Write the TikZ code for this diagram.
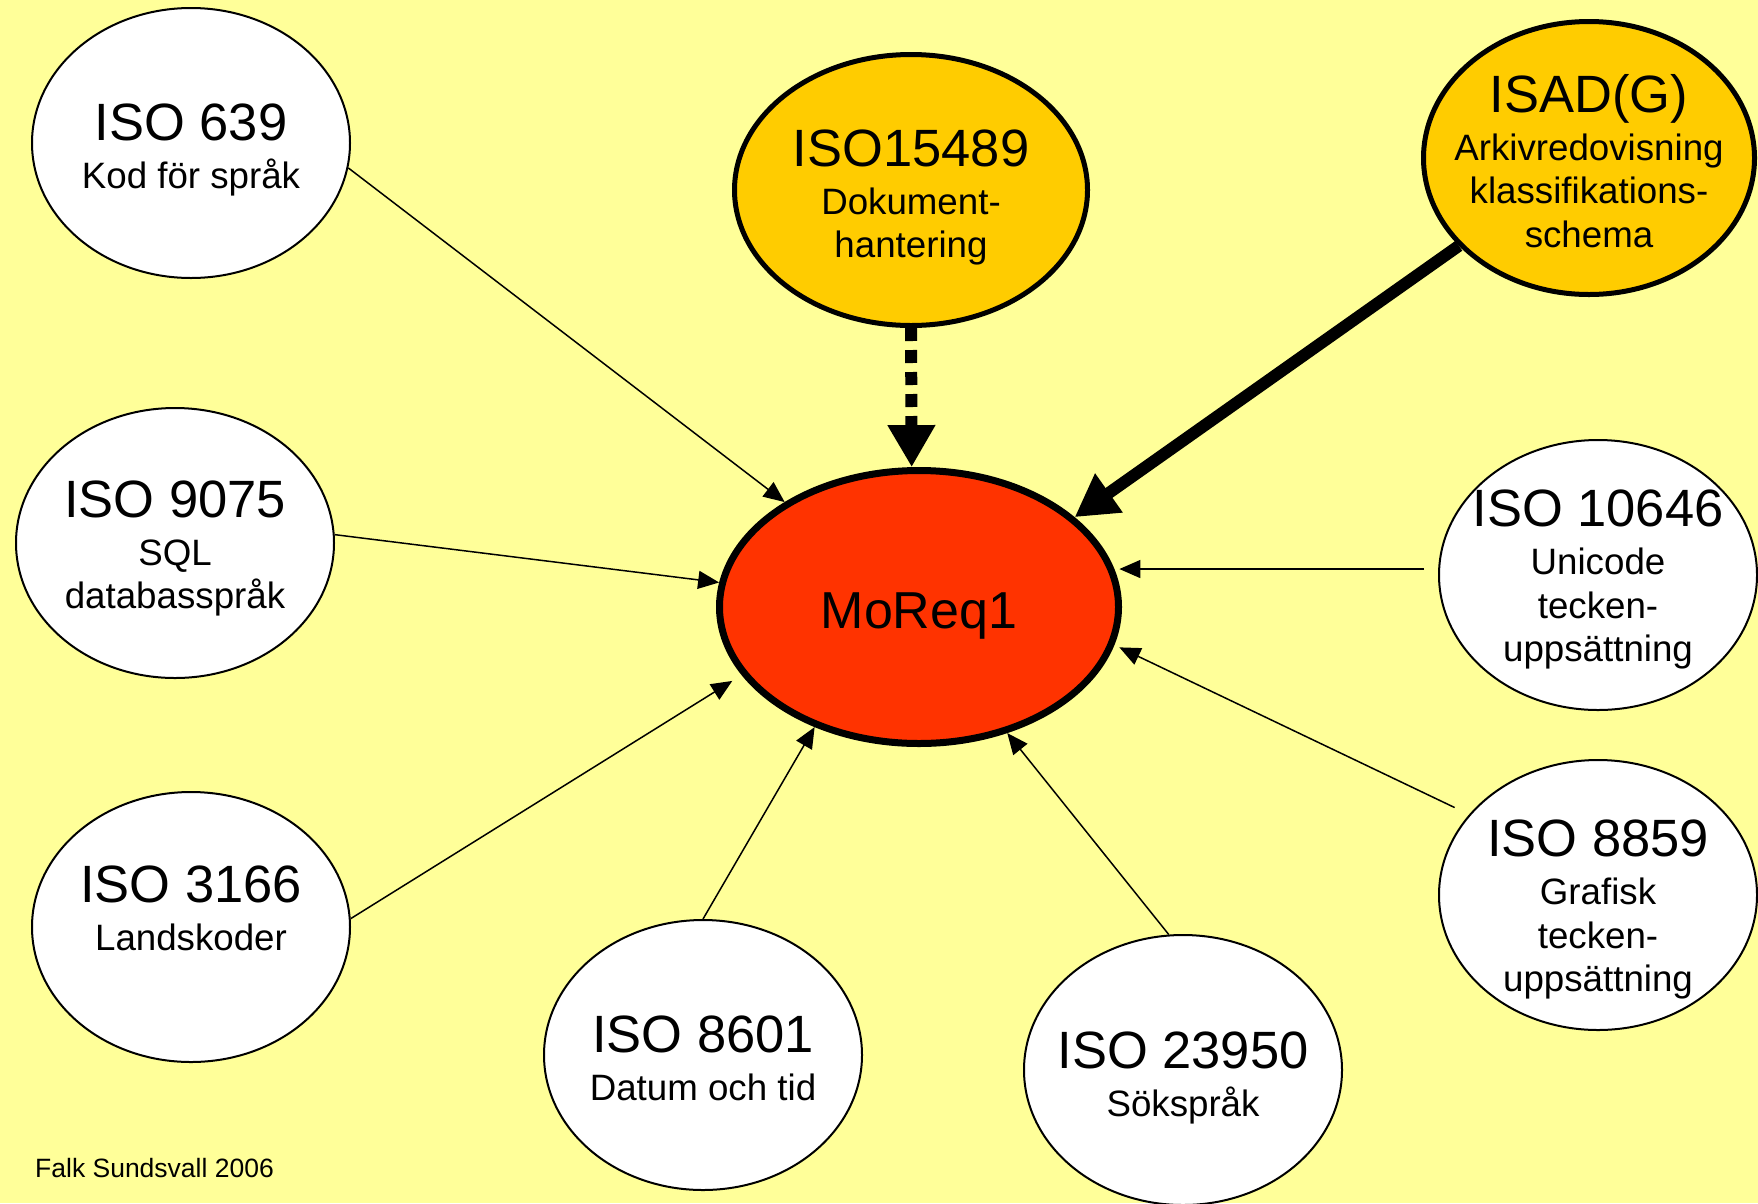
\documentclass[tikz,border=0pt]{standalone}
\usepackage{fontspec}
\setmainfont{Liberation Sans}
\usetikzlibrary{shapes.geometric,arrows.meta}
\definecolor{bgyellow}{HTML}{FFFF99}
\definecolor{isoorange}{HTML}{FFCC00}
\definecolor{moreqred}{HTML}{FF3300}
\newcommand\bigf{\fontsize{52.5}{52.5}\selectfont}
\newcommand\gapline{\noalign{\vskip4.5pt}}
\newcommand\elltext[2]{\makebox[0pt][c]{\raisebox{#1}[0pt][0pt]{\fontsize{36.7}{43.5}\selectfont\vtop{\halign{\hfil##\hfil\cr#2\crcr}}}}}
\begin{document}
\begin{tikzpicture}[x=1pt,y=-1pt,
  thinell/.style={ellipse, draw=black, line width=2pt, fill=white, inner sep=0pt, outer sep=1pt, minimum width=318pt, minimum height=270pt},
  boldell/.style={ellipse, draw=black, line width=5pt, fill=isoorange, inner sep=0pt, outer sep=2.5pt},
  centreell/.style={ellipse, draw=black, line width=7pt, fill=moreqred, inner sep=0pt, outer sep=3.5pt, minimum width=399pt, minimum height=273pt},
  thinarrow/.style={line width=1.5pt, draw=black, -{Triangle[length=21pt,width=18pt]}},
  heavyarrow/.style={line width=12pt, draw=black, -{Triangle[length=42pt,width=45pt]}}
]
\fill[bgyellow] (0,0) rectangle (1758,1203);
\useasboundingbox (0,0) rectangle (1758,1203);

\node[centreell] (moreq) at (919,607) {\elltext{-21pt}{{\fontsize{52}{52}\selectfont MoReq1}}};

\node[thinell] (n639) at (191,143) {\elltext{3pt}{{\bigf ISO 639}\cr\gapline Kod för språk}};
\node[thinell] (n9075) at (175,543) {\elltext{26pt}{{\bigf ISO 9075}\cr\gapline SQL\cr databasspråk}};
\node[thinell] (n3166) at (191,927) {\elltext{25pt}{{\bigf ISO 3166}\cr\gapline Landskoder}};
\node[thinell] (n8601) at (703,1055) {\elltext{3pt}{{\bigf ISO 8601}\cr\gapline Datum och tid}};
\node[thinell] (n23950) at (1183,1070) {\elltext{2pt}{{\bigf ISO 23950}\cr\gapline Sökspråk}};
\node[thinell] (n8859) at (1598,895) {\elltext{38.5pt}{{\bigf ISO 8859}\cr\gapline Grafisk\cr tecken-\cr uppsättning}};
\node[thinell] (n10646) at (1598,575) {\elltext{48.5pt}{{\bigf ISO 10646}\cr\gapline Unicode\cr tecken-\cr uppsättning}};

\node[boldell, minimum width=353pt, minimum height=271pt] (n15489) at (911,190) {\elltext{24pt}{{\bigf ISO15489}\cr\gapline Dokument-\cr hantering}};
\node[boldell, minimum width=331pt, minimum height=273pt] (nisad) at (1589,158) {\elltext{46pt}{{\bigf ISAD(G)}\cr\gapline Arkivredovisning\cr klassifikations-\cr schema}};

\node[anchor=base west, inner sep=0pt, font=\fontsize{26.5}{30}\selectfont] (credit) at (35,1177) {Falk Sundsvall 2006};

\draw[thinarrow] (n639.-9) -- (moreq.142.6);
\draw[thinarrow] (n9075.3) -- (moreq.173.2);
\draw[thinarrow, shorten >=11pt] (n3166.3) -- (moreq.201.7);
\draw[thinarrow] (n8601.90) -- (moreq.229.3);
\draw[thinarrow] (n23950.96.8) -- (moreq.305.9);
\draw[thinarrow, shorten <=16pt, shorten >=5.5pt] (n8859.148.4) -- (moreq.-11.6);
\draw[thinarrow, shorten <=14pt, shorten >=5pt] (moreq.11.3 -| n10646.west) -- (moreq.11.3);
\draw[heavyarrow] (nisad.214) -- (moreq.30);
\draw[heavyarrow, dash pattern=on 13pt off 9pt] (n15489.south) -- (moreq.93);
\end{tikzpicture}
\end{document}
